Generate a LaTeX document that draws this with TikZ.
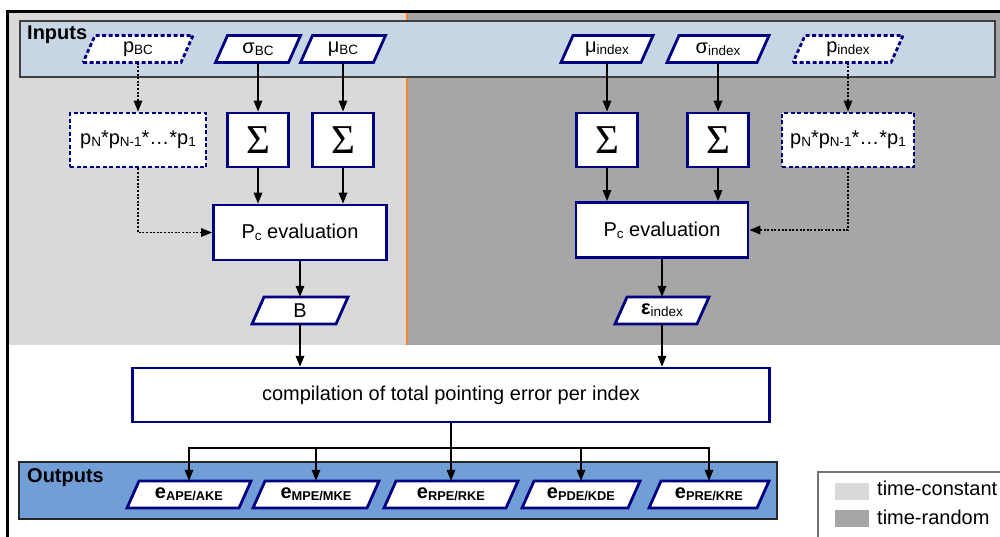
\documentclass[tikz,border=0pt]{standalone}
\usepackage{fontspec}
\setmainfont{Liberation Sans}
\newfontfamily\sigfont{Liberation Serif}
\usetikzlibrary{arrows.meta,calc}
\definecolor{navyb}{RGB}{0,0,128}
\definecolor{constgray}{RGB}{217,217,217}
\definecolor{randgray}{RGB}{166,166,166}
\definecolor{inband}{RGB}{200,213,229}
\definecolor{outband}{RGB}{114,158,216}
\definecolor{divorange}{RGB}{240,135,45}
% subscripts as set in the flow chart
\newcommand\sbs[1]{\raisebox{-2pt}{\fontsize{13.5}{14}\selectfont #1}}
\newcommand\osb[1]{\raisebox{-2pt}{\fontsize{12.8}{14}\selectfont\bfseries #1}}
\newcommand\skw{12}
% parallelogram data node: #1 name, #2 x, #3 y, #4 width, #5 extra style, #6 text
\newcommand\pgram[6]{%
  \path[pgramline,#5] ({#2-#4/2},{#3+13.5}) -- ({#2+#4/2-\skw},{#3+13.5})
     -- ({#2+#4/2},{#3-13.5}) -- ({#2-#4/2+\skw},{#3-13.5}) -- cycle;
  \node[pgtext,minimum width={#4-\skw}] (#1) at (#2,#3) {#6};}
\begin{document}
\begin{tikzpicture}[x=1pt,y=-1pt,
  font=\fontsize{20}{24}\selectfont,
  box/.style={draw=navyb,line width=2.8pt,fill=white,inner sep=0,minimum height=54pt},
  dbox/.style={box,dash pattern=on 4pt off 2.5pt},
  sigbox/.style={box,minimum width=61pt,font=\sigfont\fontsize{41}{41}\selectfont},
  pgramline/.style={draw=navyb,line width=2.8pt,fill=white,line join=miter},
  dpgram/.style={dash pattern=on 4pt off 2.5pt},
  pgtext/.style={inner sep=0,minimum height=27pt},
  flow/.style={line width=1.7pt,-{Triangle[length=11pt,width=8.5pt]}},
  dflow/.style={flow,dash pattern=on 2pt off 1.6pt},
  title/.style={anchor=base west,inner sep=0,font=\bfseries\fontsize{20}{24}\selectfont},
  legtext/.style={anchor=base west,inner sep=0}]
\useasboundingbox (0,0) rectangle (1000,536);
\clip (0,0) rectangle (1000,536);

% time-constant and time-random regions
\fill[constgray] (7,11) rectangle (407,345);
\fill[randgray] (407,11) rectangle (1020,345);
\draw[divorange,line width=2.6pt] (407,12) -- (407,345);
\draw[line width=3pt] (7,11) rectangle (1030,560);

% input and output bands
\draw[fill=inband,draw=black!75,line width=1.8pt] (20,21) rectangle (995,77);
\node[title] (inlbl) at (27,39) {Inputs};
\draw[fill=outband,draw=black!85,line width=1.8pt] (19,462) rectangle (777,519);
\node[title] (outlbl) at (27,482) {Outputs};

% inputs
\pgram{pBC}{138}{49}{110}{dpgram}{p\sbs{BC}}
\pgram{sigBC}{258}{49}{85}{}{σ\sbs{BC}}
\pgram{muBC}{343}{49}{85}{}{μ\sbs{BC}}
\pgram{muIdx}{607}{49}{92}{}{μ\sbs{index}}
\pgram{sigIdx}{718}{49}{102}{}{σ\sbs{index}}
\pgram{pIdx}{848}{49}{110}{dpgram}{p\sbs{index}}

% summation and product blocks
\node[dbox,minimum width=136pt] (prodL) at (138,140) {p\sbs{N}*p\sbs{N-1}*…*p\sbs{1}};
\node[sigbox] (sL1) at (258,140) {Σ};
\node[sigbox] (sL2) at (343,140) {Σ};
\node[sigbox] (sR1) at (607,140) {Σ};
\node[sigbox] (sR2) at (718,140) {Σ};
\node[dbox,minimum width=132pt] (prodR) at (848,140) {p\sbs{N}*p\sbs{N-1}*…*p\sbs{1}};

% collision probability evaluation
\node[box,minimum width=173pt,minimum height=55pt] (pcL) at (300,232.5) {P\sbs{c} evaluation};
\node[box,minimum width=172pt,minimum height=55pt] (pcR) at (662,230) {P\sbs{c} evaluation};

\pgram{B}{300}{310.5}{96}{}{B}
\pgram{eps}{662}{310.5}{94}{}{\textbf{ε}\sbs{index}}

% compilation
\node[box,line width=2.4pt,minimum width=637pt,minimum height=54pt] (comp) at (451,395)
  {compilation of total pointing error per index};
\coordinate (split) at ($(comp.south)+(0,25)$);

% outputs
\pgram{oAPE}{189}{494.5}{124}{}{\textbf{e}\osb{APE/AKE}}
\pgram{oMPE}{316}{494.5}{126}{}{\textbf{e}\osb{MPE/MKE}}
\pgram{oRPE}{451}{494.5}{134}{}{\textbf{e}\osb{RPE/RKE}}
\pgram{oPDE}{581}{494.5}{118}{}{\textbf{e}\osb{PDE/KDE}}
\pgram{oPRE}{709}{494.5}{120}{}{\textbf{e}\osb{PRE/KRE}}

% connectors, time-constant side
\draw[dflow] (pBC.south) -- (prodL.north);
\draw[dflow] (prodL.south) |- (pcL.west);
\draw[flow] (sigBC.south) -- (sL1.north);
\draw[flow] (muBC.south) -- (sL2.north);
\draw[flow] (sL1.south) -- (sL1.south |- pcL.north);
\draw[flow] (sL2.south) -- (sL2.south |- pcL.north);
\draw[flow] (pcL.south) -- (B.north);
\draw[flow] (B.south) -- (B.south |- comp.north);

% connectors, time-random side
\draw[dflow] (pIdx.south) -- (prodR.north);
\draw[dflow] (prodR.south) |- (pcR.east);
\draw[flow] (muIdx.south) -- (sR1.north);
\draw[flow] (sigIdx.south) -- (sR2.north);
\draw[flow] (sR1.south) -- (sR1.south |- pcR.north);
\draw[flow] (sR2.south) -- (sR2.south |- pcR.north);
\draw[flow] (pcR.south) -- (eps.north);
\draw[flow] (eps.south) -- (eps.south |- comp.north);

% distribution to the output indices
\draw[line width=1.7pt] (comp.south) -- (split);
\draw[flow] (split) -- (oRPE.north);
\foreach \o in {oAPE,oMPE,oPDE,oPRE}
  \draw[flow] (split) -| (\o.north);

% legend
\draw[draw=black!55,line width=1.2pt,fill=white] (818,472) rectangle (1030,560);
\fill[constgray] (835,483) rectangle (869,500);
\fill[randgray] (835,510) rectangle (869,527);
\node[legtext] (legconst) at (877,495) {time-constant};
\node[legtext] (legrand) at (877,524) {time-random};
\end{tikzpicture}
\end{document}
